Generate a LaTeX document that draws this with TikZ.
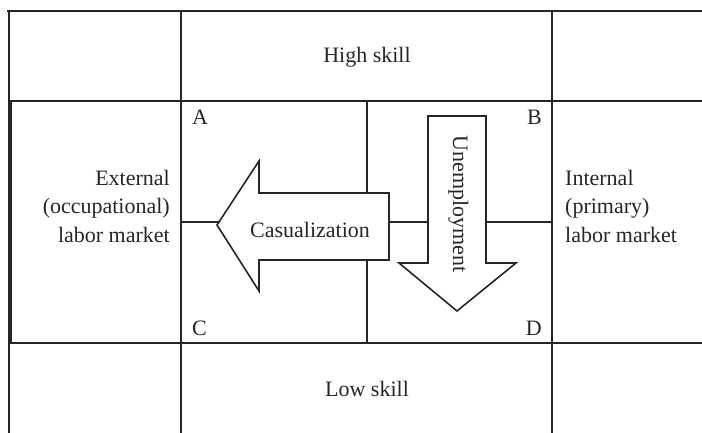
\documentclass[tikz,border=0pt]{standalone}
\usepackage{fontspec}
\setmainfont{Liberation Serif}
\begin{document}
\begin{tikzpicture}[x=1pt,y=-1pt]
        \useasboundingbox (0,0) rectangle (702,433);

        \begin{scope}[line width=2pt, draw=black!85]
        \draw (7,11.5) -- (702,11.5);
        \draw (8.5,11.5) -- (8.5,433);
        \draw[line width=3.4pt] (10,101) -- (10,343);
        \draw (8,101) -- (702,101);
        \draw (8,343) -- (702,343);
        \draw (181,11.5) -- (181,433);
        \draw (552,11.5) -- (552,433);
        \draw (367,101) -- (367,343);
        \draw (181,222) -- (552,222);
        \end{scope}

        \begin{scope}[line width=1.6pt, draw=black!85, fill=white]
        \filldraw (217,225) -- (259,161) -- (259,193) -- (389,193) -- (389,260)
            -- (259,260) -- (259,291) -- cycle;
        \filldraw (428,116) -- (486,116) -- (486,263) -- (516,263) -- (457,311)
            -- (399,263) -- (428,263) -- cycle;
        \end{scope}

        \begin{scope}[every node/.style={inner sep=0pt, text=black!85,
            font=\fontsize{22}{28.5}\selectfont}]
        \node[anchor=base] (high) at (367,63) {High skill};
        \node[anchor=base] (low) at (367,396) {Low skill};
        \node[anchor=north east, align=right] (ext) at (170,170)
            {External\\(occupational)\\labor market};
        \node[anchor=north west, align=left] (int) at (565,170)
            {Internal\\(primary)\\labor market};
        \node[anchor=base west] (A) at (192,125) {A};
        \node[anchor=base east] (B) at (542,125) {B};
        \node[anchor=base west] (C) at (192,335) {C};
        \node[anchor=base east] (D) at (542,335) {D};
        \node[anchor=base] (cas) at (310,237) {Casualization};
        \node[anchor=base, rotate=-90] (unemp) at (453,204) {Unemployment};
        \end{scope}
    \end{tikzpicture}
\end{document}
